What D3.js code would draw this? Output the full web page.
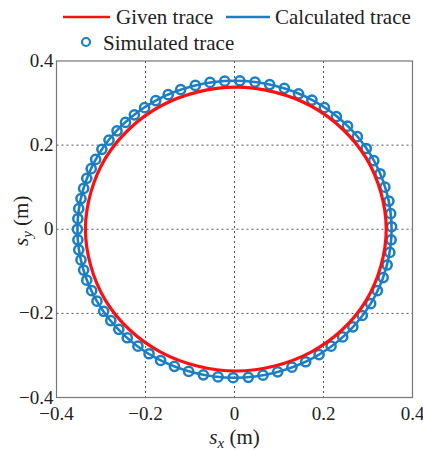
<!DOCTYPE html>
<html>
<head>
<meta charset="utf-8">
<script src="https://d3js.org/d3.v7.min.js"></script>
<style>
  body { margin: 0; background: #fff; }
  svg text { font-family: "Liberation Serif", "DejaVu Serif", serif; fill: #222; }
</style>
</head>
<body>
<div id="chart"></div>
<script>
// tick values on both axes
var ticks = [-0.4, -0.2, 0, 0.2, 0.4];
var tickLabels = ["\u22120.4", "\u22120.2", "0", "0.2", "0.4"];

// given trace (red)
var givenX = [0.341, 0.329, 0.296, 0.242, 0.172, 0.090, 0.003, -0.084, -0.166, -0.236, -0.290, -0.323, -0.335, -0.323, -0.290, -0.236, -0.166, -0.084, 0.003, 0.090, 0.172, 0.242, 0.296, 0.329];
var givenY = [0.000, 0.087, 0.169, 0.239, 0.293, 0.326, 0.338, 0.326, 0.293, 0.239, 0.169, 0.087, 0.000, -0.087, -0.169, -0.239, -0.292, -0.325, -0.337, -0.325, -0.292, -0.239, -0.169, -0.087];

// calculated trace (blue line)
var calcX = [0.353, 0.341, 0.306, 0.250, 0.177, 0.091, 0.000, -0.091, -0.177, -0.250, -0.306, -0.341, -0.353, -0.341, -0.306, -0.250, -0.177, -0.091, 0.000, 0.091, 0.177, 0.250, 0.306, 0.341];
var calcY = [0.000, 0.091, 0.177, 0.250, 0.306, 0.341, 0.353, 0.341, 0.306, 0.250, 0.177, 0.091, 0.000, -0.091, -0.177, -0.250, -0.306, -0.341, -0.353, -0.341, -0.306, -0.250, -0.177, -0.091];

// simulated trace (blue circles), denser on the left side
var simX = [0.353, 0.351, 0.347, 0.338, 0.327, 0.313, 0.296, 0.276, 0.254, 0.229, 0.202, 0.174, 0.144, 0.112, 0.079, 0.046, 0.012,
            -0.022, -0.055, -0.088, -0.121, -0.149, -0.177, -0.202, -0.225, -0.245, -0.264, -0.282, -0.298, -0.312, -0.322, -0.332, -0.339, -0.345, -0.350, -0.352, -0.353,
            -0.352, -0.350, -0.345, -0.339, -0.332, -0.321, -0.309, -0.294, -0.278, -0.260, -0.241, -0.217, -0.192, -0.166, -0.135, -0.103, -0.070, -0.037, -0.003,
            0.031, 0.064, 0.097, 0.129, 0.160, 0.190, 0.217, 0.243, 0.266, 0.287, 0.306, 0.321, 0.334, 0.343, 0.349, 0.352];
var simY = [0.006, 0.037, 0.067, 0.100, 0.132, 0.163, 0.192, 0.220, 0.245, 0.268, 0.289, 0.307, 0.322, 0.335, 0.344, 0.350, 0.353,
            0.352, 0.349, 0.342, 0.332, 0.320, 0.306, 0.289, 0.272, 0.254, 0.234, 0.212, 0.190, 0.166, 0.144, 0.121, 0.097, 0.073, 0.049, 0.025, 0.000,
            -0.025, -0.049, -0.073, -0.097, -0.121, -0.146, -0.171, -0.195, -0.217, -0.238, -0.258, -0.278, -0.296, -0.312, -0.326, -0.338, -0.346, -0.351, -0.353,
            -0.352, -0.347, -0.339, -0.328, -0.315, -0.298, -0.278, -0.256, -0.232, -0.205, -0.177, -0.146, -0.115, -0.085, -0.055, -0.025];

var legendNames = ["Given trace", "Calculated trace", "Simulated trace"];
var red = "#ff1010", blue = "#1a7fc4";
var serif = "'Liberation Serif', 'DejaVu Serif', serif";

var width = 423, height = 450;
var margin = {left: 56.5, right: 10.5, top: 61, bottom: 52.5};

var svg = d3.select("#chart").append("svg")
  .attr("width", width)
  .attr("height", height);

var x = d3.scaleLinear().domain([-0.4, 0.4]).range([margin.left, width - margin.right]);
var y = d3.scaleLinear().domain([-0.4, 0.4]).range([height - margin.bottom, margin.top]);

var boxW = x(0.4) - x(-0.4), boxH = y(-0.4) - y(0.4);

// grid lines
var grid = svg.append("g");
grid.selectAll(".gx").data([-0.2, 0, 0.2]).enter().append("line")
  .attr("x1", d => x(d)).attr("x2", d => x(d))
  .attr("y1", y(0.4)).attr("y2", y(-0.4))
  .style("stroke", "#555").style("stroke-width", 1).style("stroke-dasharray", "2,3");
grid.selectAll(".gy").data([-0.2, 0, 0.2]).enter().append("line")
  .attr("y1", d => y(d)).attr("y2", d => y(d))
  .attr("x1", x(-0.4)).attr("x2", x(0.4))
  .style("stroke", "#555").style("stroke-width", 1).style("stroke-dasharray", "2,3");

// traces
var line = d3.line().curve(d3.curveCatmullRomClosed);

svg.append("path")
  .attr("d", line(calcX.map((d, i) => [x(d), y(calcY[i])])))
  .style("fill", "none").style("stroke", blue).style("stroke-width", 2.6);

svg.selectAll(".sim").data(simX).enter().append("circle")
  .attr("cx", d => x(d))
  .attr("cy", (d, i) => y(simY[i]))
  .attr("r", 4.6)
  .style("fill", "none").style("stroke", blue).style("stroke-width", 2.5);

svg.append("path")
  .attr("d", line(givenX.map((d, i) => [x(d), y(givenY[i])])))
  .style("fill", "none").style("stroke", red).style("stroke-width", 3.2);

// frame
svg.append("rect")
  .attr("x", x(-0.4)).attr("y", y(0.4))
  .attr("width", boxW).attr("height", boxH)
  .style("fill", "none").style("stroke", "#777").style("stroke-width", 1.2);

// tick labels
svg.selectAll(".xt").data(ticks).enter().append("text")
  .attr("x", d => x(d))
  .attr("y", y(-0.4) + 22)
  .attr("text-anchor", "middle")
  .attr("font-family", serif)
  .style("font-size", "19px")
  .text((d, i) => tickLabels[i]);

svg.selectAll(".yt").data(ticks).enter().append("text")
  .attr("x", x(-0.4) - 3)
  .attr("y", d => y(d) + 6)
  .attr("text-anchor", "end")
  .attr("font-family", serif)
  .style("font-size", "19px")
  .text((d, i) => tickLabels[i]);

// axis titles
var xt = svg.append("text")
  .attr("x", x(0)).attr("y", 444)
  .attr("text-anchor", "middle")
  .attr("font-family", serif)
  .style("font-size", "21px");
xt.append("tspan").style("font-style", "italic").text("s");
xt.append("tspan").style("font-style", "italic").style("font-size", "15px").attr("dy", 4).text("x");
xt.append("tspan").attr("dy", -4).text(" (m)");

var yt = svg.append("text")
  .attr("transform", "translate(28," + y(0.02) + ") rotate(-90)")
  .attr("text-anchor", "middle")
  .attr("font-family", serif)
  .style("font-size", "21px");
yt.append("tspan").style("font-style", "italic").text("s");
yt.append("tspan").style("font-style", "italic").style("font-size", "15px").attr("dy", 4).text("y");
yt.append("tspan").attr("dy", -4).text(" (m)");

// legend
var lg = svg.append("g").attr("font-family", serif);
lg.append("line").attr("x1", 63).attr("x2", 110).attr("y1", 17).attr("y2", 17)
  .style("stroke", red).style("stroke-width", 2.5);
lg.append("text").attr("x", 116).attr("y", 24).style("font-size", "21px").text(legendNames[0]);
lg.append("line").attr("x1", 226).attr("x2", 270).attr("y1", 17).attr("y2", 17)
  .style("stroke", blue).style("stroke-width", 2.5);
lg.append("text").attr("x", 275).attr("y", 24).style("font-size", "21px").text(legendNames[1]);
lg.append("circle").attr("cx", 86).attr("cy", 42).attr("r", 4)
  .style("fill", "none").style("stroke", blue).style("stroke-width", 2.2);
lg.append("text").attr("x", 103).attr("y", 50).style("font-size", "21px").text(legendNames[2]);
</script>
</body>
</html>
